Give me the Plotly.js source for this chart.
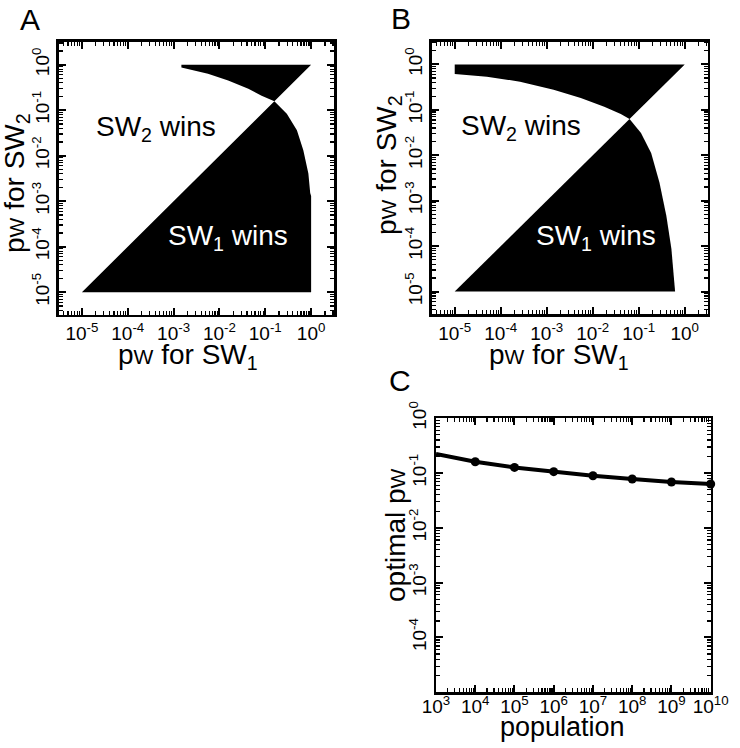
<!DOCTYPE html>
<html><head><meta charset="utf-8">
<script src="https://cdn.plot.ly/plotly-3.0.1.min.js"></script>
<style>html,body{margin:0;padding:0;background:#fff}</style>
</head><body><div id="chart" style="width:740px;height:748px"></div>
<script>
// ---- data ----
const diagEnds = [1e-5, 1];
// Panel A boundary curves (from the crossing point outward)
const aUpperCurveX = [0.158, 0.0832, 0.0427, 0.0155, 0.00562, 0.00148, 0.00148];
const aUpperCurveY = [0.158, 0.209, 0.295, 0.447, 0.631, 0.871, 1];
const aLowerCurveX = [0.158, 0.295, 0.490, 0.676, 0.871, 0.955, 1];
const aLowerCurveY = [0.158, 0.0832, 0.0363, 0.0132, 0.00407, 0.00151, 0.0013];
// Panel B boundary curves
const bUpperCurveX = [0.0631, 0.0407, 0.0178, 0.0055, 0.00141, 0.000263, 0.0000501, 0.00001, 0.00001];
const bUpperCurveY = [0.0631, 0.0813, 0.117, 0.182, 0.275, 0.417, 0.537, 0.617, 1];
const bLowerCurveX = [0.0631, 0.112, 0.186, 0.282, 0.398, 0.513, 0.589, 0.617];
const bLowerCurveY = [0.0631, 0.0309, 0.0112, 0.00251, 0.000468, 0.0000871, 0.0000224, 0.00001];
// Panel C
const population = [1e3, 1e4, 1e5, 1e6, 1e7, 1e8, 1e9, 1e10];
const optimalPw = [0.223, 0.161, 0.127, 0.106, 0.0895, 0.0778, 0.0686, 0.0631];
// tick labels
const abTickVals = [1e-5, 1e-4, 1e-3, 1e-2, 1e-1, 1];
const abTickText = ['10<sup>-5</sup>','10<sup>-4</sup>','10<sup>-3</sup>','10<sup>-2</sup>','10<sup>-1</sup>','10<sup>0</sup>'];
const cXTickVals = [1e3,1e4,1e5,1e6,1e7,1e8,1e9,1e10];
const cXTickText = ['10<sup>3</sup>','10<sup>4</sup>','10<sup>5</sup>','10<sup>6</sup>','10<sup>7</sup>','10<sup>8</sup>','10<sup>9</sup>','10<sup>10</sup>'];
const cYTickVals = [1e-4, 1e-3, 1e-2, 1e-1, 1];
const cYTickText = ['10<sup>-4</sup>','10<sup>-3</sup>','10<sup>-2</sup>','10<sup>-1</sup>','10<sup>0</sup>'];

// ---- build ----
const FONT = 'Liberation Sans, Arial, Helvetica, sans-serif';
function minorVals(lo, hi){ const v=[]; for(let e=lo;e<=hi;e++){ for(let m=2;m<=9;m++) v.push(m*Math.pow(10,e)); } return v; }

function axis(extra, minors){
  return Object.assign({
    type:'log', showline:true, linecolor:'black', linewidth:2.5, mirror:'allticks',
    ticks:'inside', ticklen:7, tickwidth:2, tickcolor:'black',
    showgrid:false, zeroline:false, tickmode:'array',
    tickfont:{family:FONT, size:19, color:'black'},
    minor:{ticks:'inside', ticklen:4, tickwidth:1.2, tickcolor:'black', tickmode:'array', tickvals:minors, showgrid:false},
    automargin:false, fixedrange:true
  }, extra);
}
const pw = 'p<span style="font-size:21px">W</span>';

const aLowX = [diagEnds[0]].concat(aLowerCurveX, [diagEnds[1]]);
const aLowY = [diagEnds[0]].concat(aLowerCurveY, [diagEnds[0]]);
const aUpX = [diagEnds[1]].concat(aUpperCurveX);
const aUpY = [diagEnds[1]].concat(aUpperCurveY);
const bLowX = [diagEnds[0]].concat(bLowerCurveX);
const bLowY = [diagEnds[0]].concat(bLowerCurveY);
const bUpX = [diagEnds[1]].concat(bUpperCurveX);
const bUpY = [diagEnds[1]].concat(bUpperCurveY);

function region(x, y, xa, ya){
  return {type:'scatter', mode:'lines', x:x, y:y, xaxis:xa, yaxis:ya, fill:'toself',
    fillcolor:'black', line:{width:0, color:'black'}, hoverinfo:'skip', showlegend:false};
}
const data = [
  region(aLowX, aLowY, 'x', 'y'),
  region(aUpX, aUpY, 'x', 'y'),
  region(bLowX, bLowY, 'x2', 'y2'),
  region(bUpX, bUpY, 'x2', 'y2'),
  {type:'scatter', mode:'lines+markers', x:population, y:optimalPw, xaxis:'x3', yaxis:'y3',
   line:{color:'black', width:4}, marker:{color:'black', size:9}, cliponaxis:false, showlegend:false}
];

const abMinor = minorVals(-6, 0);
function pa(x, y, text, size, angle, color){
  return {xref:'paper', yref:'paper', x:x/740, y:1-y/748, text:text, showarrow:false, textangle:angle||0,
    xanchor:'center', yanchor:'middle', font:{size:size, color:color||'black', family:FONT}};
}
const layout = {
  width:740, height:748, margin:{l:0,r:0,t:0,b:0}, paper_bgcolor:'white', plot_bgcolor:'white',
  showlegend:false, font:{family:FONT, color:'black'},
  xaxis: axis({domain:[0.0797,0.4514], range:[-5.5,0.5], anchor:'y', tickvals:abTickVals, ticktext:abTickText}, abMinor),
  yaxis: axis({domain:[0.5789,0.9439], range:[-5.5,0.5], anchor:'x', tickvals:abTickVals, ticktext:abTickText, tickangle:-90}, abMinor),
  xaxis2: axis({domain:[0.5834,0.9564], range:[-5.5,0.5], anchor:'y2', tickvals:abTickVals, ticktext:abTickText}, abMinor),
  yaxis2: axis({domain:[0.5798,0.9443], range:[-5.5,0.5], anchor:'x2', tickvals:abTickVals, ticktext:abTickText, tickangle:-90}, abMinor),
  xaxis3: axis({domain:[0.5892,0.9604], range:[3,10], anchor:'y3', tickvals:cXTickVals, ticktext:cXTickText, ticklabelstandoff:-5}, minorVals(3, 9)),
  yaxis3: axis({domain:[0.0745,0.4408], range:[-5,0], anchor:'x3', tickvals:cYTickVals, ticktext:cYTickText, tickangle:-90}, minorVals(-5, -1)),
  annotations:[
    {xref:'x', yref:'y', x:-3.39, y:-1.40, text:'SW<sub>2</sub> wins', showarrow:false, font:{size:28, color:'black', family:FONT}},
    {xref:'x', yref:'y', x:-1.81, y:-3.80, text:'SW<sub>1</sub> wins', showarrow:false, font:{size:28, color:'white', family:FONT}},
    {xref:'x2', yref:'y2', x:-3.56, y:-1.39, text:'SW<sub>2</sub> wins', showarrow:false, font:{size:28, color:'black', family:FONT}},
    {xref:'x2', yref:'y2', x:-1.93, y:-3.80, text:'SW<sub>1</sub> wins', showarrow:false, font:{size:28, color:'white', family:FONT}},
    pa(188, 356, pw+' for SW<sub>1</sub>', 28),
    pa(17, 183, pw+' for SW<sub>2</sub>', 28, -90),
    pa(559, 356, pw+' for SW<sub>1</sub>', 28),
    pa(388, 165, pw+' for SW<sub>2</sub>', 28, -90),
    pa(562, 727, 'population', 27),
    pa(395, 535, 'optimal '+pw, 28, -90),
    pa(30, 20, 'A', 30),
    pa(401, 19, 'B', 30),
    pa(400, 380, 'C', 30)
  ]
};
Plotly.newPlot('chart', data, layout, {staticPlot:true, displayModeBar:false});
</script></body></html>
